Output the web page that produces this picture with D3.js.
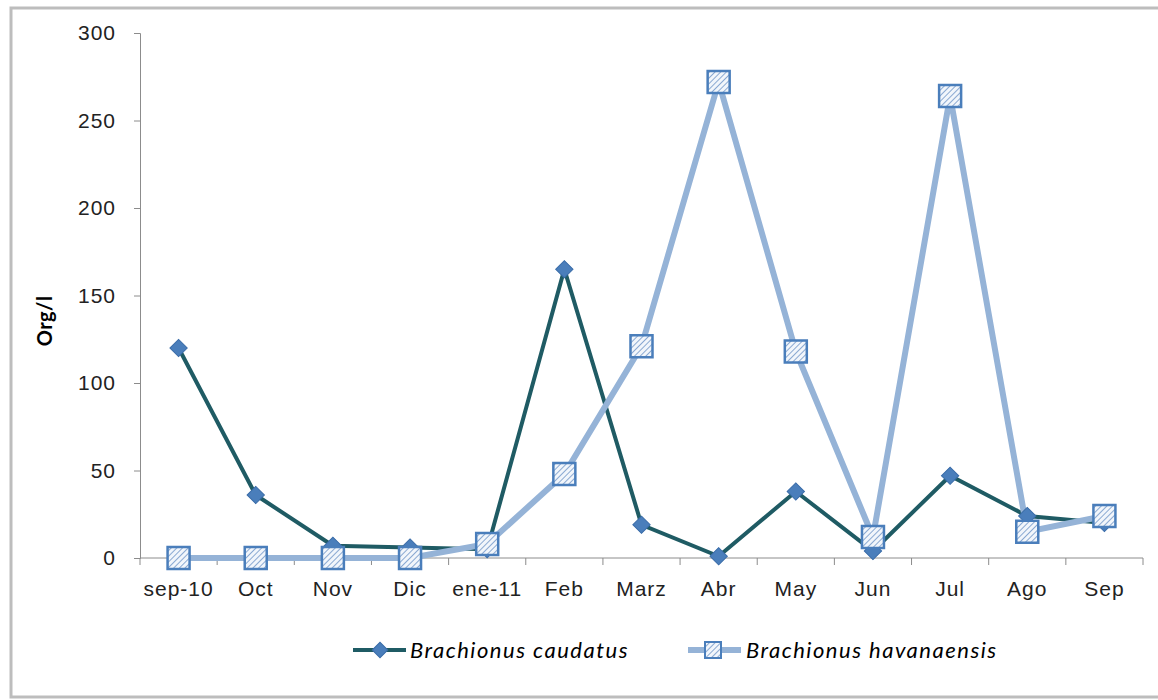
<!DOCTYPE html>
<html>
<head>
<meta charset="utf-8">
<script src="https://cdn.jsdelivr.net/npm/d3@7"></script>
<style>
  body { margin: 0; background: #fff; }
  svg { font-family: Lato, "Open Sans", sans-serif; }
</style>
</head>
<body>
<svg id="chart" width="1158" height="700"></svg>
<script>
// months on the x axis
const months = ["sep-10", "Oct", "Nov", "Dic", "ene-11", "Feb", "Marz", "Abr", "May", "Jun", "Jul", "Ago", "Sep"];
// Brachionus caudatus (Org/l)
const caudatus = [120, 36, 7, 6, 5, 165, 19, 1, 38, 4, 47, 24, 20];
// Brachionus havanaensis (Org/l)
const havanaensis = [0, 0, 0, 0, 8, 48, 121, 272, 118, 12, 264, 15, 24];
const yTicks = [0, 50, 100, 150, 200, 250, 300];

const darkLine = "#1f5b64";
const lightLine = "#95b3d7";
const markBlue = "#4a7ebb";

const svg = d3.select("#chart");

// frame of the pasted picture
svg.append("rect").attr("x", 11).attr("y", 8).attr("width", 1150).attr("height", 689)
    .style("fill", "white").style("stroke", "#bdbdbd").style("stroke-width", 3);

// hatch for the squares
const defs = svg.append("defs");
const pat = defs.append("pattern").attr("id", "hatch")
    .attr("patternUnits", "userSpaceOnUse").attr("width", 4).attr("height", 4)
    .attr("patternTransform", "rotate(45)");
pat.append("rect").attr("width", 4).attr("height", 4).style("fill", "#f2f6fb");
pat.append("line").attr("x1", 0).attr("y1", 0).attr("x2", 0).attr("y2", 4)
    .style("stroke", "#6f95c8").style("stroke-width", 1.6);

const plotL = 140, plotR = 1143, plotT = 33, plotB = 558;

const x = d3.scaleBand().domain(months).range([plotL, plotR]);
const y = d3.scaleLinear().domain([0, 300]).range([plotB, plotT]);

// y axis
const yAxis = svg.append("g").attr("transform", "translate(" + plotL + ",0)")
    .call(d3.axisLeft(y).tickValues(yTicks).tickSize(6).tickPadding(18));
yAxis.selectAll("text").style("font-size", "21px").style("letter-spacing", "1px").style("fill", "#222");
yAxis.selectAll("line,path").style("stroke", "#8c8c8c");

// x axis with ticks between categories
const xAxis = svg.append("g").attr("transform", "translate(0," + plotB + ")")
    .call(d3.axisBottom(x).tickSize(0).tickPadding(23));
xAxis.select(".domain").attr("d", "M" + plotL + ",0H" + plotR).style("stroke", "#8c8c8c");
xAxis.selectAll("text").style("font-size", "21px").style("letter-spacing", "1px").style("fill", "#222");
xAxis.selectAll(".sep").data(months.concat(["end"])).enter().append("line")
    .attr("class", "sep")
    .attr("x1", (d, i) => plotL + i * x.step())
    .attr("x2", (d, i) => plotL + i * x.step())
    .attr("y1", 0).attr("y2", 7)
    .style("stroke", "#8c8c8c");

svg.append("text")
    .attr("transform", "translate(52,321) rotate(-90)")
    .attr("text-anchor", "middle")
    .style("font-size", "20px").style("font-weight", "bold").style("letter-spacing", "0.5px")
    .text("Org/l");

const cx = (d, i) => x(months[i]) + x.bandwidth() / 2;
const line = d3.line().x(cx).y(d => y(d));

svg.append("path").datum(caudatus).attr("d", line)
    .style("fill", "none").style("stroke", darkLine).style("stroke-width", 4);

svg.append("path").datum(havanaensis).attr("d", line)
    .style("fill", "none").style("stroke", lightLine).style("stroke-width", 6);

const diamond = d3.symbol().type(d3.symbolSquare).size(150);

svg.selectAll(".dia").data(caudatus).enter().append("path")
    .attr("class", "dia")
    .attr("d", diamond)
    .attr("transform", (d, i) => "translate(" + cx(d, i) + "," + y(d) + ") rotate(45)")
    .style("fill", markBlue).style("stroke", "#3a6ca8").style("stroke-width", 1);

svg.selectAll(".sq").data(havanaensis).enter().append("rect")
    .attr("class", "sq")
    .attr("x", (d, i) => cx(d, i) - 11)
    .attr("y", d => y(d) - 11)
    .attr("width", 22).attr("height", 22)
    .style("fill", "url(#hatch)").style("stroke", markBlue).style("stroke-width", 2.5);

// legend
const legend = svg.append("g").attr("transform", "translate(0,650)");
legend.append("line").attr("x1", 353).attr("x2", 406).attr("y1", 0).attr("y2", 0)
    .style("stroke", darkLine).style("stroke-width", 4);
legend.append("path").attr("d", d3.symbol().type(d3.symbolSquare).size(120))
    .attr("transform", "translate(380,0) rotate(45)")
    .style("fill", markBlue).style("stroke", "#3a6ca8");
legend.append("text").attr("x", 410).attr("y", 8).style("font-size", "22px").style("font-style", "italic")
    .style("letter-spacing", "1.5px")
    .text("Brachionus caudatus");

legend.append("line").attr("x1", 688).attr("x2", 741).attr("y1", 0).attr("y2", 0)
    .style("stroke", lightLine).style("stroke-width", 6);
legend.append("rect").attr("x", 705).attr("y", -8).attr("width", 16).attr("height", 16)
    .style("fill", "url(#hatch)").style("stroke", markBlue).style("stroke-width", 2);
legend.append("text").attr("x", 746).attr("y", 8).style("font-size", "22px").style("font-style", "italic")
    .style("letter-spacing", "1.5px")
    .text("Brachionus havanaensis");
</script>
</body>
</html>
